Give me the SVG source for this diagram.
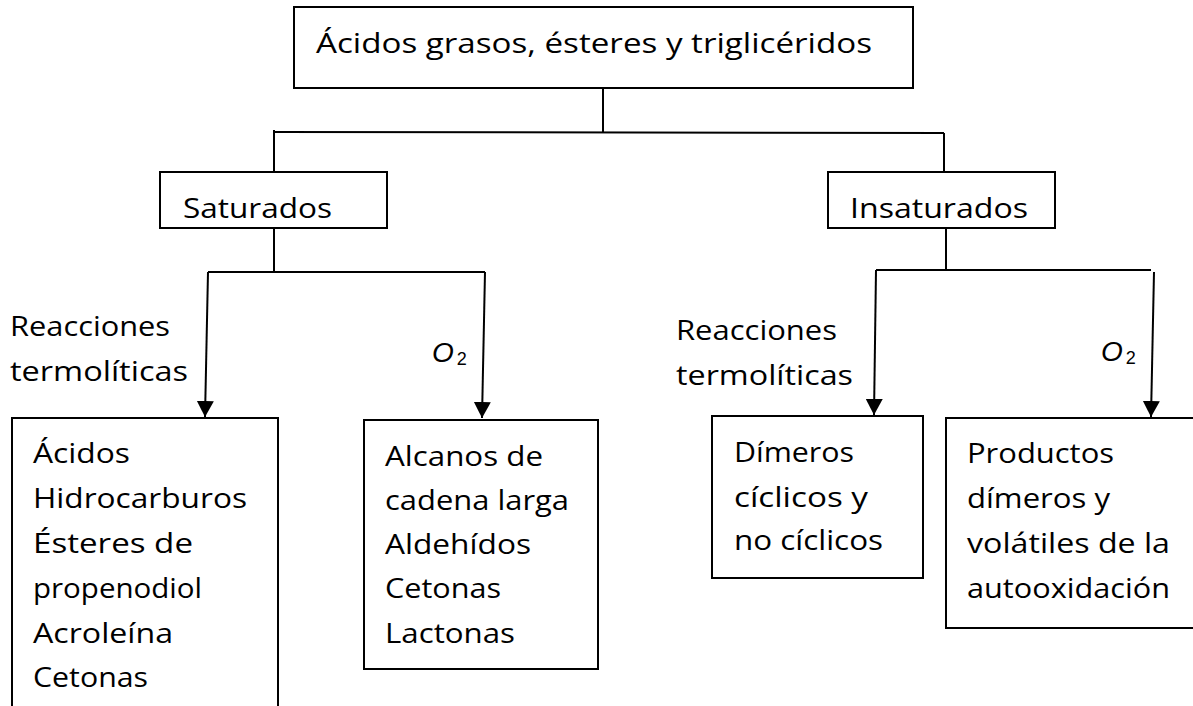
<svg xmlns="http://www.w3.org/2000/svg" width="1193" height="706" viewBox="0 0 1193 706">
<defs>
<style>
.box{fill:#fff;stroke:#000;stroke-width:2}
.ln{fill:none;stroke:#000;stroke-width:2}
text{font-family:"Open Sans","Noto Sans",sans-serif;font-size:27px;fill:#000}
text.o2{font-family:"Liberation Sans",sans-serif;font-size:28px;font-style:italic}
tspan.sub{font-style:normal;font-size:18px}
</style>
<marker id="ah" markerUnits="userSpaceOnUse" markerWidth="17" markerHeight="17" viewBox="0 0 17 17" refX="16" refY="8.5" orient="auto">
<path d="M0,0 L16,8.5 L0,17 Z" fill="#000"/>
</marker>
</defs>
<rect width="1193" height="706" fill="#fff"/>
<g id="connectors">
<line class="ln" x1="603" y1="88" x2="603" y2="133"/>
<line class="ln" x1="274" y1="132" x2="944" y2="133"/>
<line class="ln" x1="274" y1="130" x2="274" y2="172"/>
<line class="ln" x1="944" y1="133" x2="944" y2="172"/>
<line class="ln" x1="274" y1="228" x2="274" y2="272"/>
<line class="ln" x1="208" y1="272" x2="485" y2="272"/>
<line class="ln" x1="208" y1="272" x2="205" y2="417" marker-end="url(#ah)"/>
<line class="ln" x1="485" y1="272" x2="482" y2="418" marker-end="url(#ah)"/>
<line class="ln" x1="946" y1="228" x2="946" y2="270"/>
<line class="ln" x1="876" y1="270" x2="1151" y2="270"/>
<line class="ln" x1="876" y1="270" x2="874" y2="415" marker-end="url(#ah)"/>
<line class="ln" x1="1154" y1="272" x2="1151" y2="417" marker-end="url(#ah)"/>
</g>
<g id="labels">
<text x="10" y="336" textLength="160" lengthAdjust="spacingAndGlyphs">Reacciones</text>
<text x="10" y="381" textLength="178" lengthAdjust="spacingAndGlyphs">termolíticas</text>
<text class="o2" x="432" y="362">O<tspan class="sub" dx="3" dy="3">2</tspan></text>
<text x="676" y="340" textLength="161" lengthAdjust="spacingAndGlyphs">Reacciones</text>
<text x="676" y="385" textLength="177" lengthAdjust="spacingAndGlyphs">termolíticas</text>
<text class="o2" x="1101" y="361">O<tspan class="sub" dx="3" dy="3">2</tspan></text>
</g>
<g id="root">
<rect class="box" x="294" y="7" width="619" height="81"/>
<text x="316" y="53" textLength="556" lengthAdjust="spacingAndGlyphs">Ácidos grasos, ésteres y triglicéridos</text>
</g>
<g id="saturados">
<rect class="box" x="160" y="172" width="227" height="56"/>
<text x="183" y="218" textLength="149" lengthAdjust="spacingAndGlyphs">Saturados</text>
</g>
<g id="insaturados">
<rect class="box" x="828" y="172" width="227" height="56"/>
<text x="850" y="218" textLength="178" lengthAdjust="spacingAndGlyphs">Insaturados</text>
</g>
<g id="box-termoliticas-sat">
<rect class="box" x="12" y="418" width="266" height="300"/>
<text x="33" y="463" textLength="97" lengthAdjust="spacingAndGlyphs">Ácidos</text>
<text x="33" y="508" textLength="214" lengthAdjust="spacingAndGlyphs">Hidrocarburos</text>
<text x="33" y="553" textLength="160" lengthAdjust="spacingAndGlyphs">Ésteres de</text>
<text x="33" y="598" textLength="169" lengthAdjust="spacingAndGlyphs">propenodiol</text>
<text x="33" y="643" textLength="140" lengthAdjust="spacingAndGlyphs">Acroleína</text>
<text x="33" y="687" textLength="115" lengthAdjust="spacingAndGlyphs">Cetonas</text>
</g>
<g id="box-o2-sat">
<rect class="box" x="364" y="420" width="234" height="249"/>
<text x="385" y="466" textLength="158" lengthAdjust="spacingAndGlyphs">Alcanos de</text>
<text x="385" y="510" textLength="184" lengthAdjust="spacingAndGlyphs">cadena larga</text>
<text x="385" y="554" textLength="146" lengthAdjust="spacingAndGlyphs">Aldehídos</text>
<text x="385" y="598" textLength="116" lengthAdjust="spacingAndGlyphs">Cetonas</text>
<text x="385" y="643" textLength="130" lengthAdjust="spacingAndGlyphs">Lactonas</text>
</g>
<g id="box-termoliticas-insat">
<rect class="box" x="712" y="416" width="211" height="162"/>
<text x="734" y="462" textLength="120" lengthAdjust="spacingAndGlyphs">Dímeros</text>
<text x="734" y="507" textLength="134" lengthAdjust="spacingAndGlyphs">cíclicos y</text>
<text x="734" y="550" textLength="149" lengthAdjust="spacingAndGlyphs">no cíclicos</text>
</g>
<g id="box-o2-insat">
<rect class="box" x="946" y="418" width="260" height="210"/>
<text x="967" y="463" textLength="147" lengthAdjust="spacingAndGlyphs">Productos</text>
<text x="967" y="508" textLength="143" lengthAdjust="spacingAndGlyphs">dímeros y</text>
<text x="967" y="553" textLength="203" lengthAdjust="spacingAndGlyphs">volátiles de la</text>
<text x="967" y="598" textLength="203" lengthAdjust="spacingAndGlyphs">autooxidación</text>
</g>
</svg>
